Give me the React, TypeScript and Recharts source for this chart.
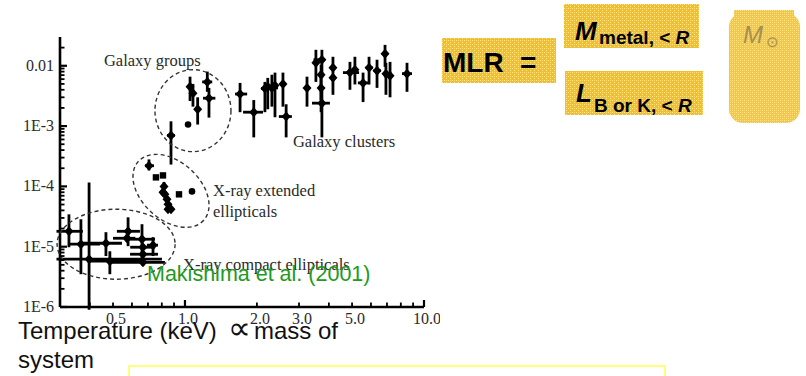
import { ScatterChart, Scatter, XAxis, YAxis, ErrorBar, ReferenceDot } from "recharts"

const SERIF = '"Liberation Serif", "Times New Roman", serif'
const SANS = '"Liberation Sans", Arial, sans-serif'

// temperature ticks (keV); only some of them carry a label
const xTicks = [0.4, 0.5, 0.6, 0.7, 0.8, 0.9, 1, 2, 3, 4, 5, 6, 7, 8, 9, 10]
const xTickLabels: Record<string, string> = { "0.5": "0.5", "1": "1.0", "2": "2.0", "3": "3.0", "5": "5.0", "10": "10.0" }

const yDecades = [1e-6, 1e-5, 1e-4, 1e-3, 1e-2]
const yDecadeLabels = ["1E-6", "1E-5", "1E-4", "1E-3", "0.01"]
const yMinor = [1, 2, 3, 4, 5, 6, 7, 8, 9]
const yTicks = yDecades.flatMap((d) => yMinor.map((k) => k * d)).filter((v) => v < 0.025)

// rows: [kT, kT low, kT high, MLR, MLR low, MLR high, marker]
type Row = [number, number, number, number, number, number, string]

const groupPoints: Row[] = [
  [1.05, 1.03, 1.07, 0.0045, 0.0026, 0.0066, "d"],
  [1.08, 1.06, 1.1, 0.0035, 0.0021, 0.005, "d"],
  [1.13, 1.1, 1.16, 0.0019, 0.00106, 0.003, "d"],
  [1.24, 1.18, 1.3, 0.0054, 0.0037, 0.008, "d"],
  [1.26, 1.19, 1.34, 0.0029, 0.00138, 0.0043, "d"],
  [1.03, 1.03, 1.03, 0.00106, 0.00106, 0.00106, "c"],
  [0.874, 0.841, 0.908, 0.0007, 0.00023, 0.0012, "d"],
]

const clusterPoints: Row[] = [
  [1.7, 1.62, 1.82, 0.0034, 0.0017, 0.0052, "d"],
  [1.94, 1.75, 2.12, 0.0017, 0.00065, 0.0027, "d"],
  [2.16, 2.08, 2.27, 0.0042, 0.0017, 0.0054, "d"],
  [2.22, 2.16, 2.28, 0.0045, 0.0019, 0.0063, "d"],
  [2.31, 2.12, 2.45, 0.0043, 0.0021, 0.0071, "d"],
  [2.38, 2.32, 2.44, 0.0047, 0.0014, 0.0077, "d"],
  [2.57, 2.52, 2.62, 0.005, 0.0021, 0.0077, "d"],
  [2.65, 2.47, 2.8, 0.00144, 0.00065, 0.0023, "d"],
  [3.24, 3.15, 3.33, 0.0043, 0.0021, 0.0066, "d"],
  [3.53, 3.45, 3.62, 0.0112, 0.0054, 0.0184, "d"],
  [3.74, 3.45, 3.85, 0.0126, 0.0063, 0.0184, "d"],
  [3.71, 3.65, 3.77, 0.0071, 0.0027, 0.0104, "d"],
  [3.71, 3.65, 3.77, 0.0043, 0.0017, 0.0071, "d"],
  [3.74, 3.4, 4.04, 0.0024, 0.00065, 0.0043, "d"],
  [4.16, 4.05, 4.27, 0.0093, 0.0033, 0.0141, "d"],
  [4.16, 4.04, 4.28, 0.0063, 0.0063, 0.0063, "d"],
  [4.9, 4.58, 5.35, 0.0077, 0.004, 0.0116, "d"],
  [5.14, 5.05, 5.25, 0.0086, 0.0049, 0.0141, "d"],
  [5.56, 5.29, 5.94, 0.0052, 0.0025, 0.0077, "d"],
  [5.89, 5.7, 6.1, 0.0093, 0.0049, 0.0141, "d"],
  [6.36, 6.15, 6.6, 0.0083, 0.0043, 0.0126, "d"],
  [6.87, 6.75, 7.0, 0.0158, 0.0096, 0.0222, "d"],
  [6.93, 6.8, 7.05, 0.0074, 0.0033, 0.0112, "d"],
  [7.21, 6.8, 7.42, 0.0068, 0.003, 0.0116, "d"],
  [8.49, 8.09, 8.91, 0.0074, 0.0037, 0.0112, "d"],
]

const extendedPoints: Row[] = [
  [0.707, 0.68, 0.742, 0.00022, 0.000184, 0.00028, "d"],
  [0.756, 0.756, 0.756, 0.000141, 0.000141, 0.000141, "s"],
  [0.809, 0.809, 0.809, 0.000152, 0.000152, 0.000152, "s"],
  [0.817, 0.8, 0.835, 0.0001, 0.000085, 0.000118, "d"],
  [0.809, 0.795, 0.825, 0.0000796, 0.00007, 0.00009, "d"],
  [0.824, 0.81, 0.84, 0.0000738, 0.000065, 0.000082, "d"],
  [0.841, 0.83, 0.855, 0.000061, 0.000054, 0.000068, "d"],
  [0.849, 0.835, 0.865, 0.0000504, 0.000045, 0.000056, "d"],
  [0.849, 0.835, 0.865, 0.0000417, 0.000038, 0.000046, "d"],
  [0.874, 0.86, 0.89, 0.0000417, 0.000038, 0.000046, "d"],
  [0.944, 0.944, 0.944, 0.0000738, 0.0000738, 0.0000738, "s"],
  [1.07, 1.07, 1.07, 0.0000826, 0.0000826, 0.0000826, "c"],
]

const compactPoints: Row[] = [
  [0.327, 0.29, 0.374, 0.000018, 0.0000098, 0.0000344, "d"],
  [0.367, 0.324, 0.441, 0.000011, 0.0000035, 0.0000285, "d"],
  [0.397, 0.29, 0.801, 0.0000062, 0.0000009, 0.000116, "d"],
  [0.467, 0.364, 0.545, 0.0000114, 0.000007, 0.0000174, "d"],
  [0.485, 0.393, 0.667, 0.00000575, 0.0000035, 0.0000084, "d"],
  [0.578, 0.519, 0.648, 0.000018, 0.0000102, 0.0000307, "d"],
  [0.572, 0.5, 0.62, 0.0000138, 0.000012, 0.000016, "d"],
  [0.661, 0.578, 0.749, 0.0000133, 0.0000051, 0.0000236, "d"],
  [0.667, 0.589, 0.771, 0.0000075, 0.0000066, 0.0000085, "d"],
  [0.667, 0.495, 0.824, 0.0000055, 0.0000048, 0.0000063, "d"],
  [0.735, 0.693, 0.771, 0.0000106, 0.000007, 0.0000144, "d"],
  [0.667, 0.59, 0.75, 0.0000098, 0.0000088, 0.000011, "d"],
]

const chartData = [...groupPoints, ...clusterPoints, ...extendedPoints, ...compactPoints].map(
  ([t, tLo, tHi, m, mLo, mHi, mark]) => ({
    t,
    m,
    mark,
    ex: [t - tLo, tHi - t],
    ey: [m - mLo, mHi - m],
  })
)

const isDecade = (v: number) => Math.abs(Math.log10(v) - Math.round(Math.log10(v))) < 1e-6

const decadeLabel = (v: number) => {
  const i = yDecades.findIndex((d) => Math.abs(v / d - 1) < 1e-6)
  return i >= 0 ? yDecadeLabels[i] : null
}

const Mark = (p: any) => {
  const { cx, cy, payload } = p
  if (payload.mark === "s") return <rect x={cx - 3.2} y={cy - 3.2} width={6.4} height={6.4} fill="#000" />
  if (payload.mark === "c") return <circle cx={cx} cy={cy} r={3.3} fill="#000" />
  return <polygon points={`${cx},${cy - 5} ${cx + 4.5},${cy} ${cx},${cy + 5} ${cx - 4.5},${cy}`} fill="#000" />
}

// ticks point inward on all four sides of the frame
const LeftTick = (p: any) => {
  const v = p.payload.value
  const major = isDecade(v)
  const label = decadeLabel(v)
  return (
    <g>
      <line x1={p.x} y1={p.y} x2={p.x + (major ? 7 : 4.5)} y2={p.y} stroke="#000" strokeWidth={major ? 2.2 : 1.8} />
      {label && (
        <text x={p.x - 6} y={p.y + 5} textAnchor="end" fontFamily={SERIF} fontSize={16} fill="#2a2a2a">
          {label}
        </text>
      )}
    </g>
  )
}

const RightTick = (p: any) => {
  const major = isDecade(p.payload.value)
  return <line x1={p.x} y1={p.y} x2={p.x - (major ? 7 : 4.5)} y2={p.y} stroke="#000" strokeWidth={major ? 2.2 : 1.8} />
}

const BottomTick = (p: any) => {
  const v = p.payload.value
  const major = v === 1 || v === 10
  const label = xTickLabels[String(v)]
  return (
    <g>
      <line x1={p.x} y1={p.y} x2={p.x} y2={p.y - (major ? 7 : 4.5)} stroke="#000" strokeWidth={major ? 2.2 : 1.8} />
      {label && (
        <text x={p.x + 3} y={p.y + 17} textAnchor="middle" fontFamily={SERIF} fontSize={16} fill="#2a2a2a">
          {label}
        </text>
      )}
    </g>
  )
}

const TopTick = (p: any) => {
  const v = p.payload.value
  const major = v === 1 || v === 10
  return <line x1={p.x} y1={p.y} x2={p.x} y2={p.y + (major ? 7 : 4.5)} stroke="#000" strokeWidth={major ? 2.2 : 1.8} />
}

const ellipse = (rx: number, ry: number, rot: number) => (p: any) => (
  <ellipse
    cx={p.cx}
    cy={p.cy}
    rx={rx}
    ry={ry}
    transform={`rotate(${rot} ${p.cx} ${p.cy})`}
    fill="none"
    stroke="#333"
    strokeWidth={1.4}
    strokeDasharray="4 3"
  />
)

const note = (text: string) => (p: any) => (
  <text x={p.cx} y={p.cy} fontFamily={SERIF} fontSize={16.5} fill="#2a2a2a">
    {text}
  </text>
)

const frame = { stroke: "#000", strokeWidth: 2.6 }

export default function App() {
  return (
    <div style={{ position: "absolute", left: 0, top: 0, width: 806, height: 376, background: "#fff", overflow: "hidden" }}>
      <div style={{ position: "absolute", left: 0, top: 0 }}>
        <ScatterChart width={440} height={340} margin={{ top: 37, right: 16, bottom: 0, left: 0 }}>
          <XAxis
            dataKey="t"
            type="number"
            scale="log"
            domain={[0.3, 10]}
            allowDataOverflow
            ticks={xTicks}
            interval={0}
            tickLine={false}
            tickSize={0}
            tickMargin={0}
            height={33}
            axisLine={frame}
            tick={BottomTick}
          />
          <XAxis
            xAxisId="top"
            orientation="top"
            type="number"
            scale="log"
            domain={[0.3, 10]}
            allowDataOverflow
            ticks={xTicks}
            interval={0}
            tickLine={false}
            tickSize={0}
            tickMargin={0}
            height={0}
            axisLine={frame}
            tick={TopTick}
          />
          <YAxis
            dataKey="m"
            type="number"
            scale="log"
            domain={[1e-6, 0.03]}
            allowDataOverflow
            ticks={yTicks}
            interval={0}
            tickLine={false}
            tickSize={0}
            tickMargin={0}
            width={60}
            axisLine={frame}
            tick={LeftTick}
          />
          <YAxis
            yAxisId="right"
            orientation="right"
            type="number"
            scale="log"
            domain={[1e-6, 0.03]}
            allowDataOverflow
            ticks={yTicks}
            interval={0}
            tickLine={false}
            tickSize={0}
            tickMargin={0}
            width={0}
            axisLine={frame}
            tick={RightTick}
          />

          <ReferenceDot x={1.08} y={0.0018} shape={ellipse(38, 41, 0)} ifOverflow="visible" />
          <ReferenceDot x={0.874} y={0.0000843} shape={ellipse(44, 29, 42)} ifOverflow="visible" />
          <ReferenceDot x={0.515} y={0.000011} shape={ellipse(59, 35, 0)} ifOverflow="visible" />

          <ReferenceDot x={0.458} y={0.01} shape={note("Galaxy groups")} ifOverflow="visible" />
          <ReferenceDot x={2.83} y={0.000458} shape={note("Galaxy clusters")} ifOverflow="visible" />
          <ReferenceDot x={1.31} y={0.0000684} shape={note("X-ray extended")} ifOverflow="visible" />
          <ReferenceDot x={1.31} y={0.0000308} shape={note("ellipticals")} ifOverflow="visible" />
          <ReferenceDot x={0.981} y={0.0000041} shape={note("X-ray compact ellipticals")} ifOverflow="visible" />

          <Scatter data={chartData} dataKey="m" shape={Mark} isAnimationActive={false}>
            <ErrorBar dataKey="ex" direction="x" width={0} stroke="#000" strokeWidth={2.8} isAnimationActive={false} />
            <ErrorBar dataKey="ey" direction="y" width={0} stroke="#000" strokeWidth={2.8} isAnimationActive={false} />
          </Scatter>
        </ScatterChart>
      </div>

      <svg width={806} height={376} style={{ position: "absolute", left: 0, top: 0, pointerEvents: "none" }}>
        <defs>
          <pattern id="gold" width="4" height="4" patternUnits="userSpaceOnUse">
            <rect width="4" height="4" fill="#f0c02c" />
            <rect x="0" y="0" width="1" height="1" fill="#fde79c" />
            <rect x="2" y="2" width="1" height="1" fill="#fde79c" />
            <rect x="2" y="0" width="1" height="1" fill="#f8d770" />
          </pattern>
          <pattern id="pale" width="4" height="4" patternUnits="userSpaceOnUse">
            <rect width="4" height="4" fill="#f3c83e" />
            <rect x="0" y="0" width="1" height="1" fill="#fce596" />
            <rect x="2" y="2" width="1" height="1" fill="#fce596" />
            <rect x="2" y="0" width="1" height="1" fill="#f9da78" />
            <rect x="0" y="2" width="1" height="1" fill="#f9da78" />
          </pattern>
        </defs>

        <text x={147} y={281} fontFamily={SANS} fontSize={21.5} fill="#229922">
          Makishima et al. (2001)
        </text>

        <text x={18} y={339} fontFamily={SANS} fontSize={24} fill="#111">
          Temperature (keV)
        </text>
        <text x={228} y={339} fontFamily={SANS} fontSize={32} fill="#111">
          ∝
        </text>
        <text x={254} y={339} fontFamily={SANS} fontSize={24} fill="#111">
          mass of
        </text>
        <text x={18} y={368} fontFamily={SANS} fontSize={24} fill="#111">
          system
        </text>

        <rect x={129} y={366} width={536} height={30} fill="none" stroke="#ffff55" strokeWidth={1.5} />

        <rect x={442} y={38} width={114} height={45} fill="url(#gold)" />
        <text x={443} y={72} fontFamily={SANS} fontWeight="bold" fontSize={28} fill="#000">
          MLR
        </text>
        <text x={520} y={72} fontFamily={SANS} fontWeight="bold" fontSize={28} fill="#000">
          =
        </text>

        <rect x={564} y={4} width={135} height={44} fill="url(#gold)" />
        <text x={575} y={40} fontFamily={SANS} fontWeight="bold" fontStyle="italic" fontSize={26} fill="#000">
          M
        </text>
        <text x={599} y={44} fontFamily={SANS} fontWeight="bold" fontSize={19} fill="#000">
          metal, &lt; <tspan fontStyle="italic">R</tspan>
        </text>

        <rect x={565} y={71} width={138} height={44} fill="url(#gold)" />
        <text x={576} y={102} fontFamily={SANS} fontWeight="bold" fontStyle="italic" fontSize={26} fill="#000">
          L
        </text>
        <text x={594} y={112} fontFamily={SANS} fontWeight="bold" fontSize={19} fill="#000">
          B or K, &lt; <tspan fontStyle="italic">R</tspan>
        </text>

        <rect x={734} y={10} width={60} height={8} fill="url(#pale)" />
        <rect x={729} y={13} width={71} height={110} rx={14} fill="url(#pale)" />
        <text x={743} y={43} fontFamily={SANS} fontStyle="italic" fontSize={24} fill="#9a8450" opacity={0.85}>
          M
        </text>
        <text x={766} y={47} fontFamily={SANS} fontSize={15} fill="#9a8450" opacity={0.85}>
          ⊙
        </text>
      </svg>
    </div>
  )
}
